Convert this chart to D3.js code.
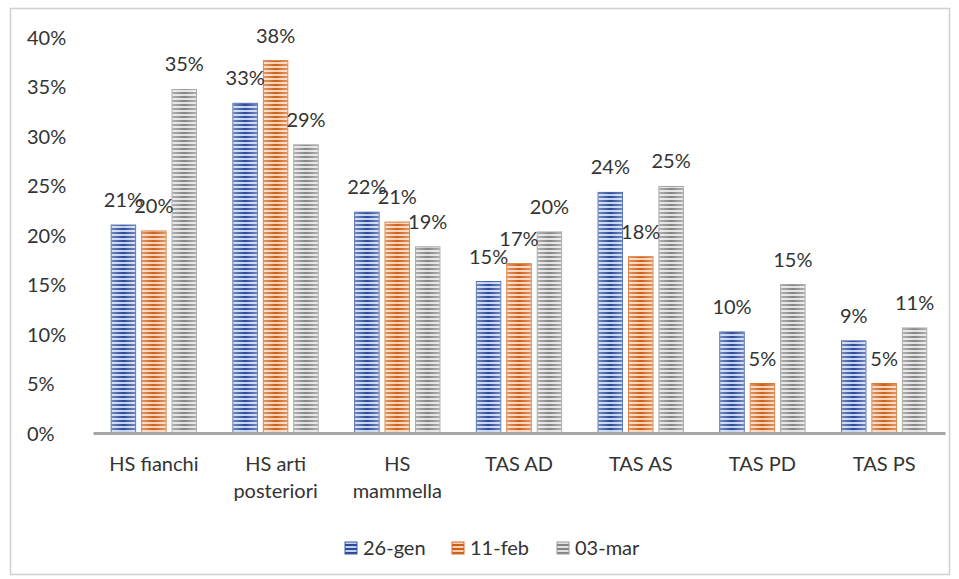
<!DOCTYPE html>
<html>
<head>
<meta charset="utf-8">
<script src="https://cdn.jsdelivr.net/npm/d3@7"></script>
<style>
  html, body { margin: 0; padding: 0; background: #fff; }
  svg { display: block; font-family: "Lato", "Liberation Sans", sans-serif; }
</style>
</head>
<body>
<svg id="chart" width="959" height="579"></svg>
<script>
// Categories (x axis), one line per label row
const categories = ["HS fianchi", "HS arti posteriori", "HS mammella", "TAS AD", "TAS AS", "TAS PD", "TAS PS"];
const categoryLines = [["HS fianchi"], ["HS arti", "posteriori"], ["HS", "mammella"], ["TAS AD"], ["TAS AS"], ["TAS PD"], ["TAS PS"]];
const seriesNames = ["26-gen", "11-feb", "03-mar"];

// Values in percent per survey date
const gen26 = [21.0, 33.3, 22.3, 15.3, 24.3, 10.2, 9.3];
const feb11 = [20.4, 37.6, 21.3, 17.1, 17.8, 5.0, 5.0];
const mar03 = [34.7, 29.1, 18.8, 20.3, 24.9, 15.0, 10.6];
const yTicks = [0, 5, 10, 15, 20, 25, 30, 35, 40];

const seriesValues = [gen26, feb11, mar03];
const palette = [
  { dark: "#2b4a9a", light: "#c3d2ee", stroke: "#3a5aa8" },
  { dark: "#cf5f16", light: "#f9d2b6", stroke: "#d66a22" },
  { dark: "#858585", light: "#e2e2e2", stroke: "#9a9a9a" }
];
const textColor = "#333";
const fontSize = 20;

const svg = d3.select("#chart");

// Outer frame
svg.append("rect").attr("x", 10.5).attr("y", 8.5).attr("width", 939).attr("height", 566)
  .attr("fill", "#fff").attr("stroke", "#d0d0d0").attr("stroke-width", 1.5);

const plot = { left: 93, right: 945, top: 37, bottom: 433 };

const x0 = d3.scaleBand().domain(categories).range([plot.left, plot.right]).paddingInner(0.3).paddingOuter(0.15);
const x1 = d3.scaleBand().domain(seriesNames).range([0, x0.bandwidth()]).paddingInner(0.2);
const y = d3.scaleLinear().domain([0, 40]).range([plot.bottom, plot.top]);

// Striped fills
const defs = svg.append("defs");
palette.forEach((c, i) => {
  const p = defs.append("pattern").attr("id", "stripe" + i).attr("patternUnits", "userSpaceOnUse")
    .attr("width", 8).attr("height", 4);
  p.append("rect").attr("width", 8).attr("height", 4).attr("fill", c.light);
  p.append("rect").attr("y", 0).attr("width", 8).attr("height", 2).attr("fill", c.dark);
});
const sheen = defs.append("linearGradient").attr("id", "sheen").attr("x1", "0").attr("x2", "1").attr("y1", "0").attr("y2", "0");
sheen.append("stop").attr("offset", "0").attr("stop-color", "#fff").attr("stop-opacity", 0.35);
sheen.append("stop").attr("offset", "0.5").attr("stop-color", "#fff").attr("stop-opacity", 0);
sheen.append("stop").attr("offset", "1").attr("stop-color", "#fff").attr("stop-opacity", 0.35);

// Y axis labels
const yAxis = d3.axisLeft(y).tickValues(yTicks).tickFormat(d => d + "%").tickSize(0);
const yg = svg.append("g").attr("transform", `translate(${plot.left - 66},0)`).call(yAxis);
yg.select(".domain").remove();
yg.selectAll("text").attr("text-anchor", "start").attr("x", 0).attr("dy", "0.35em")
  .attr("font-size", fontSize).attr("fill", textColor).attr("font-family", "Lato, sans-serif");

// Bars
const groups = svg.append("g").selectAll("g").data(categories).join("g")
  .attr("transform", d => `translate(${x0(d)},0)`);

seriesNames.forEach((s, si) => {
  groups.append("rect")
    .attr("x", x1(s)).attr("y", (d, i) => y(seriesValues[si][i]))
    .attr("width", x1.bandwidth()).attr("height", (d, i) => y(0) - y(seriesValues[si][i]))
    .attr("fill", `url(#stripe${si})`).attr("stroke", palette[si].stroke).attr("stroke-width", 1);
  groups.append("rect")
    .attr("x", x1(s)).attr("y", (d, i) => y(seriesValues[si][i]))
    .attr("width", x1.bandwidth()).attr("height", (d, i) => y(0) - y(seriesValues[si][i]))
    .attr("fill", "url(#sheen)");
});

// Value labels
seriesNames.forEach((s, si) => {
  groups.append("text")
    .attr("x", x1(s) + x1.bandwidth() / 2)
    .attr("y", (d, i) => y(seriesValues[si][i]) - 18)
    .attr("text-anchor", "middle").attr("font-size", fontSize).attr("fill", textColor)
    .text((d, i) => Math.round(seriesValues[si][i]) + "%");
});

// Baseline axis
const xAxis = d3.axisBottom(x0).tickSize(0).tickFormat("");
const xg = svg.append("g").attr("transform", `translate(0,${plot.bottom})`).call(xAxis);
xg.select(".domain").attr("stroke", "#a6a6a6").attr("stroke-width", 3);

// Category labels
const catLabels = svg.append("g").selectAll("text").data(categories).join("text")
  .attr("text-anchor", "middle").attr("font-size", fontSize).attr("fill", textColor)
  .attr("x", d => x0(d) + x0.bandwidth() / 2).attr("y", 471);
catLabels.each(function(d, i) {
  d3.select(this).selectAll("tspan").data(categoryLines[i]).join("tspan")
    .attr("x", x0(d) + x0.bandwidth() / 2).attr("dy", (l, j) => j === 0 ? 0 : 27).text(l => l);
});

// Legend
const legend = svg.append("g").attr("transform", "translate(345,548)");
const legendX = [0, 107, 212];
seriesNames.forEach((s, si) => {
  const g = legend.append("g").attr("transform", `translate(${legendX[si]},0)`);
  g.append("rect").attr("x", 0).attr("y", -6).attr("width", 12).attr("height", 12)
    .attr("fill", `url(#stripe${si})`).attr("stroke", palette[si].stroke);
  g.append("text").attr("x", 18).attr("y", 0).attr("dy", "0.35em").attr("font-size", fontSize)
    .attr("fill", textColor).text(s);
});
</script>
</body>
</html>
